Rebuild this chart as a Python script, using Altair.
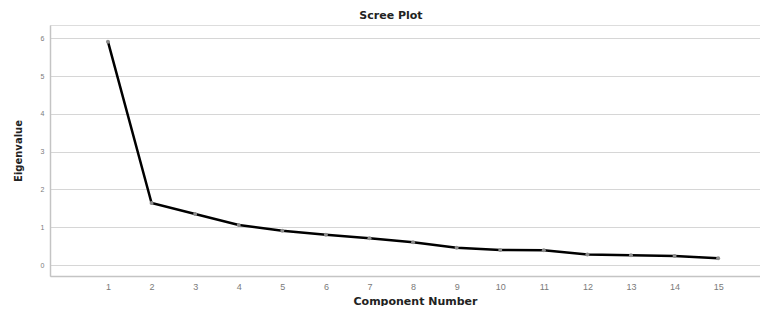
import altair as alt
import pandas as pd

components = list(range(1, 16))
eigenvalues = [5.91, 1.64, 1.35, 1.06, 0.91, 0.80, 0.71, 0.60, 0.46, 0.40, 0.39, 0.28, 0.26, 0.24, 0.18]
x_ticks = list(range(1, 16))
y_ticks = [0, 1, 2, 3, 4, 5, 6]

df = pd.DataFrame({"Component": components, "Eigenvalue": eigenvalues})

FONT = "Liberation Sans"
TFONT = "DejaVu Sans"

x = alt.X(
    "Component:Q",
    scale=alt.Scale(domain=[-0.33, 15.96], nice=False, zero=False),
    axis=alt.Axis(
        values=x_ticks, grid=False, ticks=False, labelFontSize=9, labelColor="#7a7a7a",
        labelFont=FONT, labelPadding=6, domainColor="#c4c4c4", domainWidth=1.5,
        title="Component Number", titleFont=TFONT, titleFontSize=11, titleFontWeight="bold",
        titleColor="#222222", titlePadding=4, labelFlush=False, titleX=365,
    ),
)
y = alt.Y(
    "Eigenvalue:Q",
    scale=alt.Scale(domain=[-0.29, 6.35], nice=False, zero=False),
    axis=alt.Axis(
        values=y_ticks, grid=True, gridColor="#d6d6d6", gridWidth=1.2, ticks=False,
        labelFontSize=7, labelColor="#7a7a7a", labelFont=FONT, labelPadding=6,
        domainColor="#c4c4c4", domainWidth=1.5,
        title="Eigenvalue", titleFont=TFONT, titleFontSize=10, titleFontWeight="bold",
        titleColor="#222222", titlePadding=17,
    ),
)

base = alt.Chart(df)
line = base.mark_line(color="black", strokeWidth=2.5).encode(x=x, y=y)
pts = base.mark_point(filled=True, color="#8c8c8c", size=16, opacity=1).encode(x=x, y=y)

chart = (
    alt.layer(line, pts)
    .properties(
        width=710,
        height=251,
        padding={"left": 42, "top": 17, "right": 0, "bottom": 30},
        autosize=alt.AutoSizeParams(type="none"),
        title=alt.TitleParams(
            "Scree Plot", font=TFONT, fontSize=11, fontWeight="bold", color="#222222",
            dx=-14, offset=4,
        ),
    )
    .configure_view(stroke=None)
    .configure(background="white")
)

chart.save("out.html", embed_options={"renderer": "svg", "actions": False})
